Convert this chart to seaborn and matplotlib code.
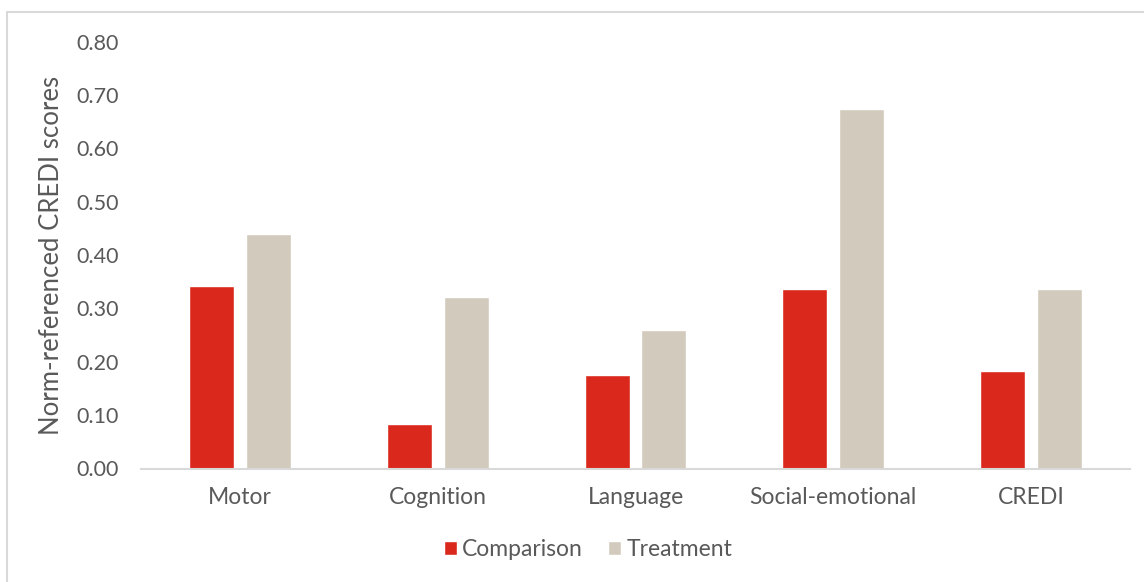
import matplotlib
matplotlib.use("Agg")
import matplotlib.pyplot as plt
from matplotlib.patches import Rectangle
from matplotlib.ticker import FormatStrFormatter
import pandas as pd
import seaborn as sns

# Norm-referenced CREDI scores by domain
domains = ["Motor", "Cognition", "Language", "Social-emotional", "CREDI"]
comparison = [0.342, 0.083, 0.175, 0.337, 0.182]
treatment = [0.440, 0.321, 0.259, 0.673, 0.337]
groups = ["Comparison", "Treatment"]
colors = ["#DA291C", "#D2CABC"]
y_ticks = [0.0, 0.1, 0.2, 0.3, 0.4, 0.5, 0.6, 0.7, 0.8]

df = pd.DataFrame({
    "domain": domains * 2,
    "group": [groups[0]] * len(domains) + [groups[1]] * len(domains),
    "score": comparison + treatment,
})

sns.set_theme(style="white")
plt.rcParams["font.family"] = ["Lato", "DejaVu Sans"]
text_color = "#595959"

fig = plt.figure(figsize=(11.44, 5.82), dpi=100)
ax = fig.add_axes([141 / 1144, 1 - 468.5 / 582, (1130 - 141) / 1144, (468.5 - 41.7) / 582])

sns.barplot(data=df, x="domain", y="score", hue="group", order=domains,
            hue_order=groups, palette=colors, width=0.575, gap=0.21,
            saturation=1, ax=ax, legend=True)

ax.set_ylim(0, 0.8)
ax.set_xlim(-0.5, len(domains) - 0.5)
ax.set_yticks(y_ticks)
ax.yaxis.set_major_formatter(FormatStrFormatter("%.2f"))
ax.set_xlabel("")
ax.set_ylabel("Norm-referenced CREDI scores", fontsize=18.5, color=text_color, labelpad=9)
ax.tick_params(axis="y", length=0, pad=16, labelsize=15.5, labelcolor=text_color)
ax.tick_params(axis="x", length=0, pad=13, labelsize=16.5, labelcolor=text_color)

for side in ["top", "right", "left"]:
    ax.spines[side].set_visible(False)
ax.spines["bottom"].set_color("#D9D9D9")
ax.spines["bottom"].set_linewidth(1.5)

handles, labels = ax.get_legend_handles_labels()
ax.legend(handles, labels, loc="center", bbox_to_anchor=(588 / 1144, 1 - 550 / 582),
          bbox_transform=fig.transFigure, ncol=2, frameon=False, fontsize=16.5,
          handlelength=0.57, handleheight=0.57, handletextpad=0.22, columnspacing=1.1,
          labelcolor=text_color)

# chart frame
fig.patches.append(Rectangle((7 / 1144, -0.1), 1.2, 1.1 - 12 / 582,
                             transform=fig.transFigure, fill=False,
                             edgecolor="#D9D9D9", linewidth=1.5))

fig.savefig("out.png", dpi=100)
